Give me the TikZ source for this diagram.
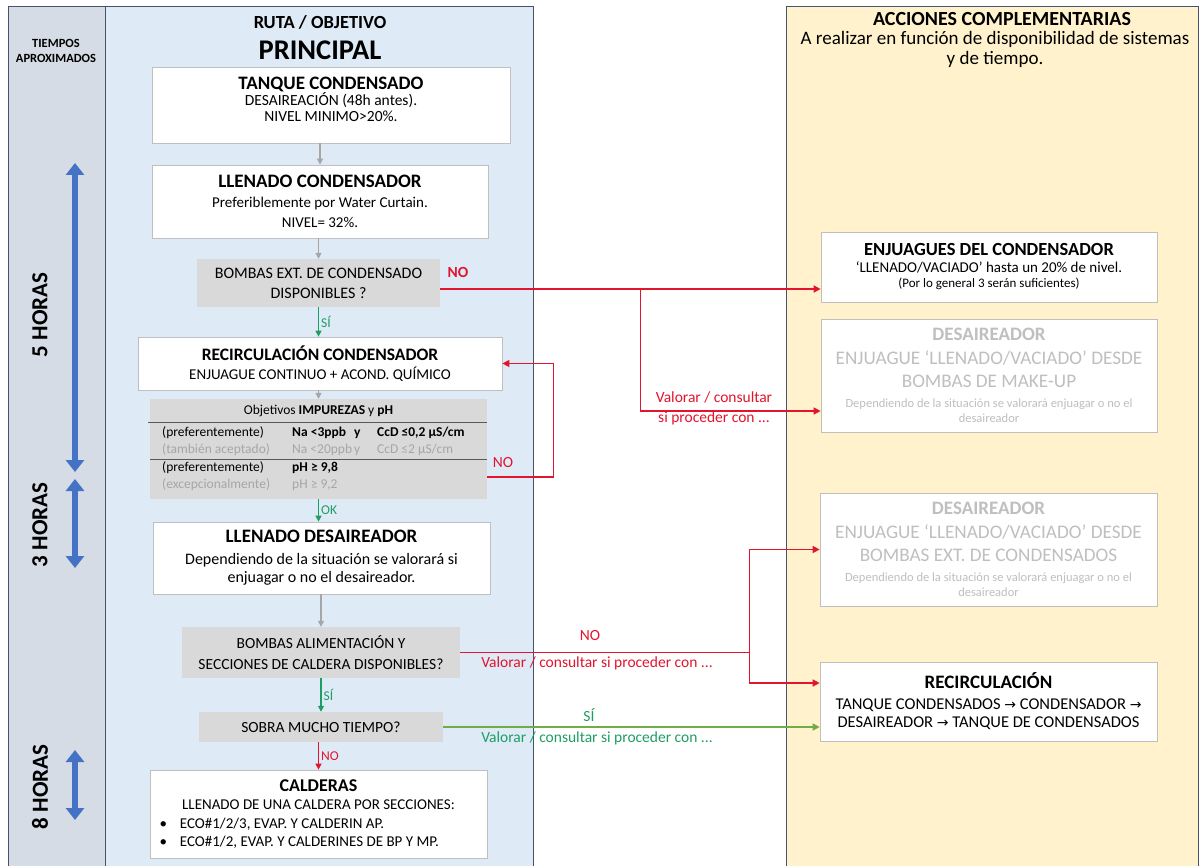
\documentclass[tikz,border=0pt]{standalone}
\usepackage{fontspec}
\setmainfont{Carlito}
\newfontfamily\symf{DejaVu Sans}
\usetikzlibrary{arrows.meta,positioning}

\definecolor{rojo}{HTML}{E3142D}
\definecolor{verde}{HTML}{1E9E62}
\definecolor{verdeclaro}{HTML}{70AD47}
\definecolor{grisflecha}{HTML}{A6A6A6}
\definecolor{grisbox}{HTML}{D9D9D9}
\definecolor{tenue}{HTML}{BFBFBF}
\definecolor{grisletra}{HTML}{A6A6A6}
\definecolor{azulflecha}{HTML}{4472C4}
\definecolor{fondotiempo}{HTML}{D6DCE5}
\definecolor{fondoruta}{HTML}{DEEBF7}
\definecolor{fondoacc}{HTML}{FFF2CC}
\definecolor{borde}{HTML}{44546A}

\newcommand{\tit}[1]{{\fontsize{19}{21}\selectfont\bfseries #1}}
\newcommand{\flech}{{\symf\fontsize{14}{14}\selectfont →}}

\begin{document}
\begin{tikzpicture}[x=1pt,y=-1pt,
   panel/.style={draw=borde,line width=0.8pt,anchor=north west,inner sep=0pt},
   wbox/.style={draw=tenue,fill=white,line width=0.7pt,align=center,inner sep=2pt,
      font=\fontsize{14}{16}\selectfont},
   gbox/.style={fill=grisbox,align=center,inner sep=2pt,font=\fontsize{15.5}{20}\selectfont},
   fbox/.style={wbox,text=tenue,font=\fontsize{19.2}{23.5}\selectfont},
   gflecha/.style={draw=grisflecha,line width=1.2pt,-{Triangle[length=6pt,width=6pt]}},
   vflecha/.style={draw=verde,line width=1.3pt,-{Triangle[length=6pt,width=6pt]}},
   rflecha/.style={draw=rojo,line width=1.3pt,-{Triangle[length=6pt,width=6pt]}},
   nolink/.style={draw=rojo,line width=1.4pt,-{Triangle[length=7pt,width=7pt]}},
   silink/.style={draw=verdeclaro,line width=1.4pt,-{Triangle[length=7pt,width=7pt]}},
   horas/.style={draw=azulflecha,line width=6.5pt,
      {Triangle[width=18pt,length=12pt]}-{Triangle[width=18pt,length=12pt]}},
   htext/.style={rotate=90,font=\fontsize{23}{25}\selectfont\bfseries},
   rtext/.style={text=rojo,font=\fontsize{15.5}{20}\selectfont},
   vtext/.style={text=verde,font=\fontsize{15.5}{20}\selectfont},
   lbl/.style={font=\fontsize{13.5}{15}\selectfont,inner sep=2pt},
   tabla/.style={anchor=west,inner sep=0pt,font=\fontsize{13.5}{15}\selectfont}]

\useasboundingbox (0,0) rectangle (1204,866);
\fill[white] (0,0) rectangle (1204,866);

% columnas de fondo
\node[panel,fill=fondotiempo,minimum width=97pt,minimum height=870pt] (tiempos) at (8,6) {};
\node[panel,fill=fondoruta,minimum width=428pt,minimum height=870pt] (ruta) at (105,6) {};
\node[panel,fill=fondoacc,minimum width=412pt,minimum height=870pt] (acc) at (786,6) {};

\node[font=\fontsize{12.5}{15}\selectfont\bfseries,align=center] (tiemptit) at (56,51) {TIEMPOS\\APROXIMADOS};
\node[font=\fontsize{18.5}{20}\selectfont\bfseries] (rutatit) at (320,22) {RUTA / OBJETIVO};
\node[font=\fontsize{28.5}{30}\selectfont\bfseries] (principal) at (320,50) {PRINCIPAL};
\node[font=\fontsize{20}{21}\selectfont\bfseries] (acctit) at (1002,19) {ACCIONES COMPLEMENTARIAS};
\node[font=\fontsize{19}{20}\selectfont,align=center] (accsub) at (995,49)
   {A realizar en función de disponibilidad de sistemas\\y de tiempo.};

% tiempos
\coordinate (h5a) at (75,163); \coordinate (h5b) at (75,472);
\coordinate (h3a) at (75,479); \coordinate (h3b) at (75,568);
\coordinate (h8a) at (75,750); \coordinate (h8b) at (75,820);
\draw[horas] (h5a) -- (h5b);
\draw[horas] (h3a) -- (h3b);
\draw[horas] (h8a) -- (h8b);
\node[htext] (t5) at (40,315) {5 HORAS};
\node[htext] (t3) at (40,525) {3 HORAS};
\node[htext] (t8) at (40,787) {8 HORAS};

% ruta principal
\node[wbox,minimum width=358pt,minimum height=76pt,font=\fontsize{15.5}{16}\selectfont] (tanque) at (331,105)
   {\tit{TANQUE CONDENSADO}\\DESAIREACIÓN (48h antes).\\NIVEL MINIMO>20\%.\\[-4pt]\mbox{}};
\node[wbox,minimum width=336pt,minimum height=73pt,font=\fontsize{15}{20}\selectfont] (llenadoC) at (320,201.5)
   {\tit{LLENADO CONDENSADOR}\\Preferiblemente por Water Curtain.\\NIVEL= 32\%.};
\node[gbox,minimum width=243pt,minimum height=48pt,font=\fontsize{16}{20}\selectfont] (bombasE) at (318.5,283)
   {BOMBAS EXT. DE CONDENSADO\\DISPONIBLES ?};
\node[wbox,minimum width=364pt,minimum height=53pt,font=\fontsize{15}{19}\selectfont] (recirc) at (320,363.5)
   {{\fontsize{17.5}{19}\selectfont\bfseries RECIRCULACIÓN CONDENSADOR}\\ENJUAGUE CONTINUO + ACOND. QUÍMICO};
\node[gbox,minimum width=337pt,minimum height=100pt] (objet) at (318.5,449) {};
\node[lbl] (objtit) at (318.5,411) {Objetivos \textbf{IMPUREZAS} y \textbf{pH}};
\draw[gray!70!black,line width=0.8pt] (148,422) -- (487,422);
\draw[gray!70!black,line width=0.8pt] (150,459) -- (487,459);
\node[tabla] (f1a) at (162,433) {(preferentemente)};
\node[tabla] (f1b) at (292,433) {\bfseries\makebox[62pt][l]{Na <3ppb}\makebox[23pt][l]{y}CcD ≤0,2 µS/cm};
\node[tabla,text=grisletra] (f2a) at (162,450) {(también aceptado)};
\node[tabla,text=grisletra] (f2b) at (292,450) {\makebox[62pt][l]{Na <20ppb}\makebox[23pt][l]{y}CcD ≤2 µS/cm};
\node[tabla] (f3a) at (162,468) {(preferentemente)};
\node[tabla] (f3b) at (292,468) {\bfseries pH ≥ 9,8};
\node[tabla,text=grisletra] (f4a) at (162,485) {(excepcionalmente)};
\node[tabla,text=grisletra] (f4b) at (292,485) {pH ≥ 9,2};
\node[wbox,minimum width=337pt,minimum height=72pt,font=\fontsize{16}{18}\selectfont] (llenadoD) at (321.5,558)
   {\tit{LLENADO DESAIREADOR}\\[4pt]Dependiendo de la situación se valorará si\\enjuagar o no el desaireador.};
\node[gbox,minimum width=278pt,minimum height=51pt,font=\fontsize{15.5}{21}\selectfont] (bombasA) at (321,652.5)
   {BOMBAS ALIMENTACIÓN Y\\SECCIONES DE CALDERA DISPONIBLES?};
\node[gbox,minimum width=244pt,minimum height=30pt] (sobra) at (321,727) {SOBRA MUCHO TIEMPO?};
\node[wbox,minimum width=337pt,minimum height=88pt,font=\fontsize{15}{18.5}\selectfont] (calderas) at (318.5,814)
   {{\fontsize{18}{20}\selectfont\bfseries CALDERAS}\\LLENADO DE UNA CALDERA POR SECCIONES:\\
    \makebox[318pt][l]{\textbullet\hspace{13pt}ECO\#1/2/3, EVAP. Y CALDERIN AP.}\\
    \makebox[318pt][l]{\textbullet\hspace{13pt}ECO\#1/2, EVAP. Y CALDERINES DE BP Y MP.}};

\draw[gflecha] (tanque.south -| llenadoC.north) -- (llenadoC.north);
\draw[gflecha] (llenadoC.south -| bombasE.north) -- (bombasE.north);
\draw[vflecha] (bombasE.south) -- (bombasE.south |- recirc.north)
   node[midway,right,text=verde,lbl] (si1) {SÍ};
\draw[gflecha] (recirc.south -| objet.north) -- (objet.north);
\draw[vflecha] (objet.south) -- (objet.south |- llenadoD.north)
   node[midway,right,text=verde,lbl] (ok) {OK};
\draw[gflecha] (llenadoD.south -| bombasA.north) -- (bombasA.north);
\draw[vflecha] (bombasA.south -| sobra.north) -- (sobra.north)
   node[midway,right,text=verde,lbl] (si2) {SÍ};
\draw[rflecha] (sobra.south -| calderas.north) -- (calderas.north)
   node[midway,right,text=rojo,lbl] (no4) {NO};

% acciones complementarias
\node[wbox,minimum width=336pt,minimum height=70pt,font=\fontsize{15}{17}\selectfont] (enjuag) at (989,267)
   {{\fontsize{18.5}{20}\selectfont\bfseries ENJUAGUES DEL CONDENSADOR}\\‘LLENADO/VACIADO’ hasta un 20\% de nivel.\\[-2pt]
    {\fontsize{13}{14}\selectfont (Por lo general 3 serán suficientes)}};
\node[fbox,minimum width=336pt,minimum height=113pt] (desMake) at (989,375.5)
   {{\fontsize{19}{21}\selectfont\bfseries DESAIREADOR}\\ENJUAGUE ‘LLENADO/VACIADO’ DESDE\\BOMBAS DE MAKE-UP\\[-4pt]
    {\fontsize{12.5}{14}\selectfont Dependiendo de la situación se valorará enjuagar o no el}\\[-8pt]
    {\fontsize{12.5}{14}\selectfont desaireador}};
\node[fbox,minimum width=337pt,minimum height=113pt] (desExt) at (988.5,549.5)
   {{\fontsize{19}{21}\selectfont\bfseries DESAIREADOR}\\ENJUAGUE ‘LLENADO/VACIADO’ DESDE\\BOMBAS EXT. DE CONDENSADOS\\[-4pt]
    {\fontsize{12.5}{14}\selectfont Dependiendo de la situación se valorará enjuagar o no el}\\[-8pt]
    {\fontsize{12.5}{14}\selectfont desaireador}};
\node[wbox,minimum width=337pt,minimum height=79pt,font=\fontsize{16.5}{18}\selectfont] (recirc2) at (988.5,701.5)
   {{\fontsize{19}{21}\selectfont\bfseries RECIRCULACIÓN}\\[3pt]TANQUE CONDENSADOS \flech{} CONDENSADOR \flech\\
    DESAIREADOR \flech{} TANQUE DE CONDENSADOS};

% conexiones
\coordinate (pE) at ([yshift=-6pt]bombasE.east);
\coordinate (rama) at ([xshift=200pt]pE);
\draw[nolink] (pE) -- (pE -| enjuag.west);
\draw[nolink] (rama) |- ([yshift=-35.5pt]desMake.west);
\node[rtext,font=\fontsize{15.5}{20}\selectfont\bfseries] (no1) at (458,272) {NO};
\node[rtext,align=center] (val1) at (714,408) {Valorar / consultar\\si proceder con ...};

\coordinate (lp) at ([yshift=-28pt]objet.east);
\draw[nolink] (lp) -- ++(66,0) |- (recirc.east);
\node[rtext] (no2) at (503,463) {NO};

\coordinate (bA) at ([xshift=289pt]bombasA.east);
\draw[draw=rojo,line width=1.4pt] (bombasA.east) -- (bA);
\draw[nolink] (bA) |- (desExt.west);
\draw[nolink] (bA) |- ([yshift=18.5pt]recirc2.west);
\node[rtext] (no3) at (590,636) {NO};
\node[rtext] (val2) at (597,663) {Valorar / consultar si proceder con ...};

\draw[silink] (sobra.east) -- (sobra.east -| recirc2.west);
\node[vtext] (si3) at (589,715) {SÍ};
\node[vtext] (val3) at (597,738) {Valorar / consultar si proceder con ...};

\end{tikzpicture}
\end{document}
